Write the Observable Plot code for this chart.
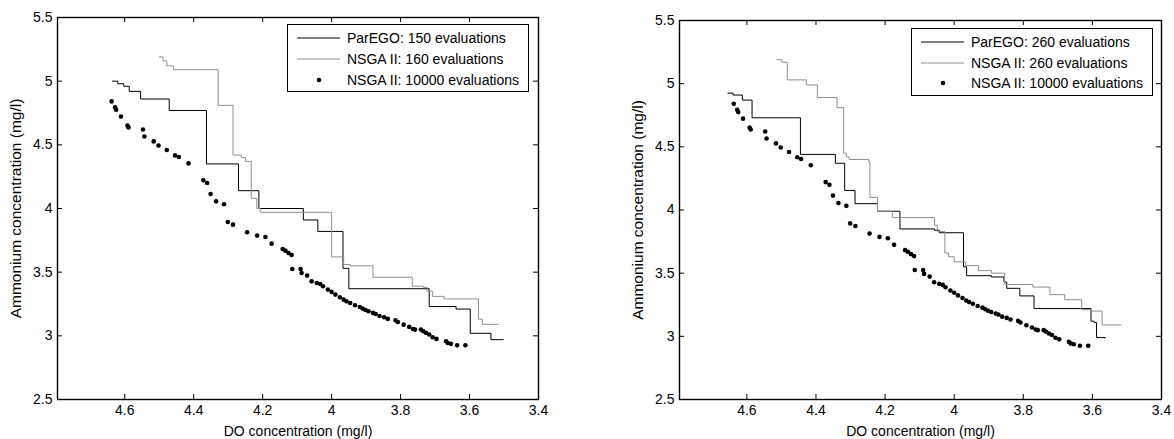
<!DOCTYPE html>
<html><head><meta charset="utf-8">
<script src="https://cdn.jsdelivr.net/npm/d3@7"></script>
<script src="https://cdn.jsdelivr.net/npm/@observablehq/plot@0.6"></script>
<style>
body{margin:0;background:#fff;font-family:"Liberation Sans",Arial,sans-serif;}
#wrap{position:relative;width:1174px;height:439px;overflow:hidden;background:#fff}
.panel{position:absolute;top:0}
.panel text{font-size:14px !important;font-family:"Liberation Sans",Arial,sans-serif !important;fill:#000}
.panel g[aria-label="y-axis label"] text{font-size:15.5px !important}
.legend{position:absolute;background:#fff;border:1.3px solid #000;box-sizing:border-box;font-size:14px;color:#000}
.legend .txt{position:absolute;white-space:nowrap;line-height:16px}
.legend svg{position:absolute}
</style></head>
<body><div id="wrap"></div>
<script>
// ---- data ----
const xTicks = [4.6, 4.4, 4.2, 4, 3.8, 3.6, 3.4];
const yTicks = [2.5, 3, 3.5, 4, 4.5, 5, 5.5];
const xLabel = "DO concentration (mg/l)";
const yLabel = "Ammonium concentration (mg/l)";

const legendLeft = ["ParEGO: 150 evaluations", "NSGA II: 160 evaluations", "NSGA II: 10000 evaluations"];
const legendRight = ["ParEGO: 260 evaluations", "NSGA II: 260 evaluations", "NSGA II: 10000 evaluations"];

const parego150 = [[4.636,5.00],[4.620,4.98],[4.603,4.96],[4.587,4.92],[4.554,4.86],[4.471,4.77],[4.363,4.35],[4.270,4.14],[4.211,4.00],[4.082,3.91],[4.040,3.82],[3.967,3.53],[3.950,3.37],[3.717,3.23],[3.639,3.21],[3.598,3.02],[3.538,2.97],[3.502,2.97]];
const nsga160 = [[4.500,5.19],[4.489,5.16],[4.478,5.12],[4.459,5.09],[4.329,4.81],[4.286,4.42],[4.262,4.40],[4.250,4.37],[4.233,4.08],[4.217,4.00],[4.207,3.97],[4.000,3.62],[3.965,3.56],[3.946,3.55],[3.880,3.46],[3.766,3.39],[3.734,3.38],[3.723,3.35],[3.707,3.31],[3.674,3.29],[3.574,3.13],[3.563,3.09],[3.516,3.09]];
const parego260 = [[4.655,4.925],[4.640,4.91],[4.613,4.87],[4.585,4.73],[4.445,4.44],[4.344,4.37],[4.317,4.155],[4.287,4.05],[4.222,3.99],[4.157,3.85],[4.057,3.84],[4.043,3.82],[3.973,3.55],[3.964,3.48],[3.892,3.47],[3.856,3.43],[3.848,3.38],[3.810,3.32],[3.769,3.22],[3.604,3.12],[3.595,3.11],[3.588,2.99],[3.561,2.99]];
const nsga260 = [[4.513,5.19],[4.499,5.17],[4.483,5.03],[4.428,4.99],[4.396,4.89],[4.339,4.81],[4.320,4.45],[4.312,4.42],[4.304,4.40],[4.247,4.38],[4.244,4.10],[4.222,3.99],[4.179,3.94],[4.057,3.88],[4.049,3.83],[4.027,3.66],[4.016,3.63],[4.000,3.59],[3.967,3.56],[3.930,3.52],[3.892,3.50],[3.854,3.41],[3.772,3.39],[3.723,3.33],[3.680,3.29],[3.631,3.21],[3.604,3.20],[3.572,3.09],[3.517,3.09]];
const nsga10000 = [[4.638,4.841],[4.628,4.794],[4.625,4.775],[4.611,4.723],[4.592,4.652],[4.589,4.637],[4.547,4.621],[4.543,4.566],[4.516,4.527],[4.502,4.495],[4.478,4.459],[4.454,4.417],[4.443,4.404],[4.415,4.354],[4.372,4.221],[4.361,4.200],[4.351,4.114],[4.335,4.056],[4.312,4.033],[4.301,3.894],[4.286,3.873],[4.245,3.813],[4.216,3.787],[4.192,3.776],[4.174,3.724],[4.142,3.682],[4.134,3.669],[4.125,3.651],[4.116,3.635],[4.114,3.525],[4.090,3.525],[4.087,3.494],[4.071,3.473],[4.058,3.428],[4.043,3.415],[4.033,3.407],[4.025,3.389],[4.011,3.363],[4.000,3.345],[3.989,3.324],[3.976,3.303],[3.965,3.284],[3.957,3.271],[3.946,3.258],[3.932,3.240],[3.918,3.227],[3.910,3.214],[3.902,3.203],[3.893,3.193],[3.880,3.180],[3.872,3.172],[3.861,3.156],[3.848,3.146],[3.837,3.133],[3.815,3.122],[3.808,3.109],[3.791,3.088],[3.775,3.070],[3.764,3.054],[3.758,3.049],[3.741,3.049],[3.734,3.036],[3.726,3.023],[3.717,3.010],[3.707,2.989],[3.696,2.976],[3.668,2.957],[3.663,2.944],[3.654,2.937],[3.636,2.926],[3.612,2.926]];

// ---- drawing ----
const FONT = '"Liberation Sans", Arial, sans-serif';
const wrap = document.getElementById("wrap");

function panel(cfg) {
  const H = 439;
  const plotH = H - cfg.mT - cfg.mB, plotW = cfg.width - cfg.mL - cfg.mR;
  const chart = Plot.plot({
    width: cfg.width, height: H,
    marginLeft: cfg.mL, marginRight: cfg.mR, marginTop: cfg.mT, marginBottom: cfg.mB,
    style: {fontFamily: FONT, fontSize: "14px", color: "#000", background: "transparent", overflow: "visible"},
    x: {domain: [4.795, 3.4]},
    y: {domain: [2.5, 5.5]},
    marks: [
      Plot.line(cfg.line1, {x: d => d[0], y: d => d[1], curve: "step-after", stroke: "#000", strokeWidth: 1}),
      Plot.line(cfg.line2, {x: d => d[0], y: d => d[1], curve: "step-after", stroke: "#8f8f8f", strokeWidth: 1}),
      Plot.dot(cfg.dots, {x: d => d[0], y: d => d[1], r: 2.3, fill: "#000", stroke: "none"}),
      Plot.tickX(xTicks, {x: d => d, insetTop: plotH - 5, stroke: "#000", strokeWidth: 1}),
      Plot.tickX(xTicks, {x: d => d, insetBottom: plotH - 5, stroke: "#000", strokeWidth: 1}),
      Plot.tickY(yTicks, {y: d => d, insetRight: plotW - 5, stroke: "#000", strokeWidth: 1}),
      Plot.tickY(yTicks, {y: d => d, insetLeft: plotW - 5, stroke: "#000", strokeWidth: 1}),
      Plot.frame({stroke: "#000", strokeWidth: 1.4}),
      Plot.axisX(xTicks, {anchor: "bottom", tickSize: 0, tickPadding: 6, fontSize: 14, tickFormat: d => String(d),
        label: xLabel, labelAnchor: "center", labelArrow: "none", labelOffset: 36}),
      Plot.axisY(yTicks, {anchor: "left", tickSize: 0, tickPadding: 5, fontSize: 14, tickFormat: d => String(d),
        label: yLabel, labelAnchor: "center", labelArrow: "none", labelOffset: 48})
    ]
  });
  chart.classList.add("panel");
  chart.style.left = cfg.left + "px";
  wrap.appendChild(chart);

  // legend
  const lg = document.createElement("div");
  lg.className = "legend";
  lg.style.left = cfg.lg.x + "px"; lg.style.top = cfg.lg.y + "px";
  lg.style.width = cfg.lg.w + "px"; lg.style.height = cfg.lg.h + "px";
  const kinds = ["line", "gray", "dot"];
  cfg.labels.forEach((t, i) => {
    const cy = cfg.lg.rows[i];
    const sw = document.createElementNS("http://www.w3.org/2000/svg", "svg");
    sw.setAttribute("width", 46); sw.setAttribute("height", 10);
    sw.style.left = "8px"; sw.style.top = (cy - 5) + "px";
    if (kinds[i] === "dot") {
      sw.innerHTML = '<circle cx="23" cy="5" r="2.3" fill="#000"/>';
    } else {
      sw.innerHTML = '<line x1="1" x2="44" y1="5" y2="5" stroke="' + (kinds[i] === "line" ? "#000" : "#8f8f8f") + '" stroke-width="1"/>';
    }
    lg.appendChild(sw);
    const s = document.createElement("div");
    s.className = "txt";
    s.textContent = t;
    s.style.left = "59px"; s.style.top = (cy - 8) + "px";
    lg.appendChild(s);
  });
  wrap.appendChild(lg);
}

panel({left: 0, width: 587, mL: 57, mR: 49, mT: 17, mB: 40,
  line1: parego150, line2: nsga160, dots: nsga10000, labels: legendLeft,
  lg: {x: 287, y: 24, w: 242, h: 68, rows: [13, 34, 55]}});
panel({left: 587, width: 587, mL: 92, mR: 13, mT: 20, mB: 40,
  line1: parego260, line2: nsga260, dots: nsga10000, labels: legendRight,
  lg: {x: 911, y: 28, w: 242, h: 68, rows: [13, 34, 54]}});
</script></body></html>
